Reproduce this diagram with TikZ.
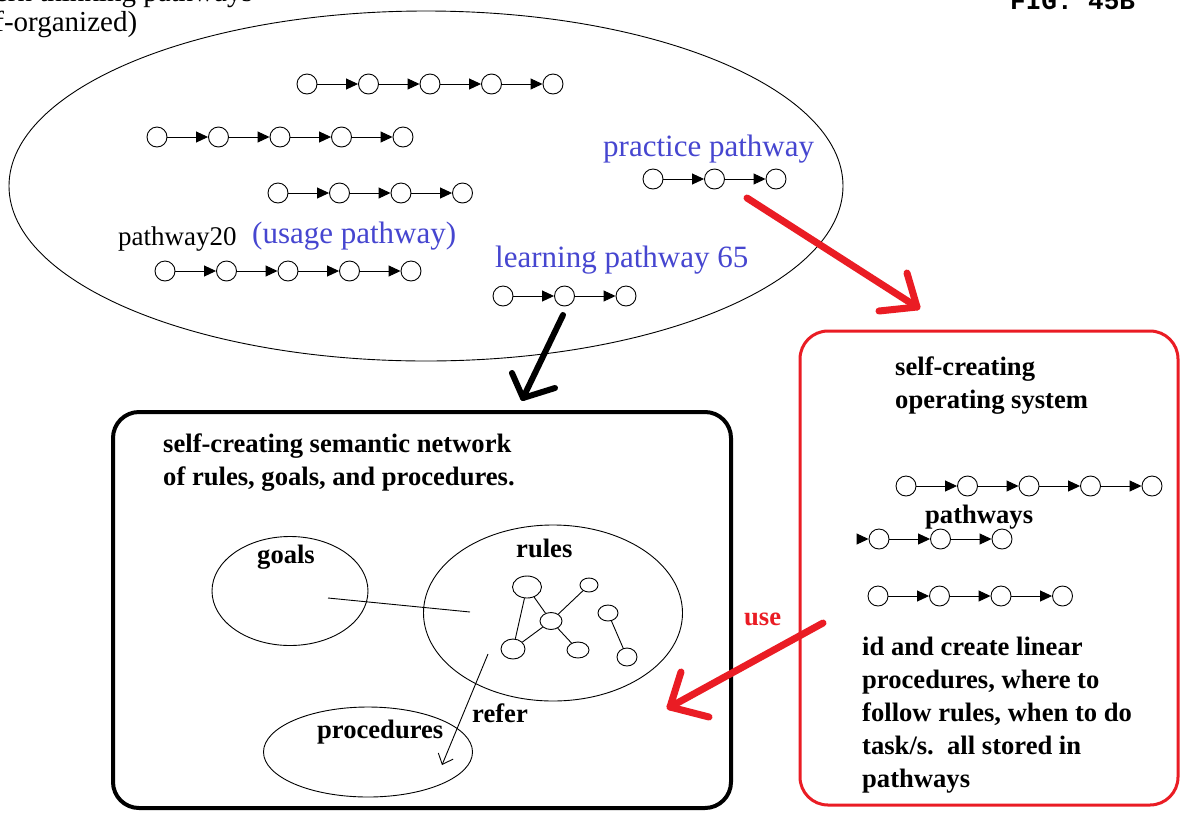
\documentclass[tikz,border=0pt]{standalone}
\usepackage{fontspec}
\setmainfont{Liberation Serif}
\newfontfamily\figfont{Liberation Mono}
\usetikzlibrary{arrows.meta,shapes.geometric,calc}

\definecolor{pathblue}{RGB}{70,70,208}
\definecolor{markred}{RGB}{234,28,36}

\begin{document}
\begin{tikzpicture}[
    x=1pt, y=-1pt,
    dot/.style      = {draw, circle, minimum size=20pt, inner sep=0pt, line width=0.9pt},
    link/.style     = {line width=0.9pt, -{Triangle[length=12pt,width=11pt]}},
    area/.style     = {draw, ellipse, line width=0.9pt},
    net/.style      = {draw, ellipse, inner sep=0pt, line width=0.9pt},
    plaintxt/.style = {font=\fontsize{27}{30}\selectfont, inner sep=0pt},
    bluetxt/.style  = {font=\fontsize{31}{34}\selectfont, text=pathblue, inner sep=0pt},
    boldtxt/.style  = {font=\fontsize{26.6}{32.8}\selectfont\bfseries, align=left, inner sep=0pt},
    hand/.style     = {line width=6pt, line cap=round, line join=round}
  ]
  \useasboundingbox[fill=white] (0,0) rectangle (1181,812);

  %–––– heading ––––
  \node[plaintxt, font=\fontsize{29}{32}\selectfont, anchor=base east] (head1) at (253,1) {pattern thinking pathways};
  \node[plaintxt, font=\fontsize{29}{32}\selectfont, anchor=base west] (head2) at (-38,31) {self-organized)};
  \node[font=\figfont\bfseries\fontsize{26}{30}\selectfont, inner sep=0pt, anchor=base west] (fig) at (1010,9) {FIG. 45B};

  %–––– field of pathways ––––
  \node[area, minimum width=834pt, minimum height=350pt] (field) at (426,186) {};

  % chains: name/first x/y/count
  \foreach \r/\x/\y/\n in {pa/307/84/5, pb/157/137/5, pc/278/193/4, pd/165/271/5,
                          prac/653/179/3, learn/503/296/3,
                          osa/906/486/5, osb/879/539/3, osc/878/596/4} {
    \foreach \k in {1,...,\n}
      \node[dot] (\r\k) at ({\x+61.5*(\k-1)},\y) {};
    \foreach \k [remember=\k as \j (initially 1)] in {2,...,\n}
      \draw[link] (\r\j) -- (\r\k);
  }
  \coordinate (osb0) at (857,539);
  \draw[link] (osb0) -- (osb1);

  \node[plaintxt, anchor=base west] (pw20)     at (118,245) {pathway20};
  \node[bluetxt,  anchor=base west] (usage)    at (252,243) {(usage pathway)};
  \node[bluetxt,  anchor=base west] (learnlbl) at (495,267) {learning pathway 65};
  \node[bluetxt,  anchor=base west] (praclbl)  at (603,156) {practice pathway};

  %–––– semantic network box ––––
  \node[draw, line width=4pt, rounded corners=26pt,
        minimum width=618pt, minimum height=396pt] (netbox) at (422,610) {};
  % base of a multi-line node sits on its last line
  \node[boldtxt, anchor=base west] (nettitle) at (163,485)
        {self-creating semantic network\\of rules, goals, and procedures.};

  \node[area, minimum width=156pt, minimum height=109pt] (goals) at (290,591) {};
  \node[area, minimum width=259pt, minimum height=176pt] (rules) at (553,613) {};
  \node[area, minimum width=209pt, minimum height=90pt]  (procs) at (368,752) {};
  \node[boldtxt, anchor=base west] (goalslbl) at (257,563) {goals};
  \node[boldtxt, anchor=base west] (ruleslbl) at (516,557) {rules};
  \node[boldtxt, anchor=base west] (procslbl) at (317,738) {procedures};
  \node[boldtxt, anchor=base west] (referlbl) at (472,722) {refer};

  % little rule graph
  \node[net, minimum width=29pt, minimum height=22pt] (rA) at (527,587) {};
  \node[net, minimum width=18pt, minimum height=14pt] (rB) at (589,585) {};
  \node[net, minimum width=22pt, minimum height=17pt] (rC) at (551,621) {};
  \node[net, minimum width=24pt, minimum height=20pt] (rD) at (513,649) {};
  \node[net, minimum width=22pt, minimum height=16pt] (rE) at (578,650) {};
  \node[net, minimum width=20pt, minimum height=16pt] (rF) at (608,613) {};
  \node[net, minimum width=20pt, minimum height=18pt] (rG) at (627,657) {};
  \foreach \a/\b in {rA/rD, rA/rC, rC/rB, rC/rD, rC/rE, rF/rG}
    \draw[line width=0.9pt] (\a) -- (\b);

  \coordinate (gl) at (328,598);
  \coordinate (rl) at (470,612);
  \draw[line width=0.9pt] (gl) -- (rl);
  \coordinate (rf0) at (488,654);
  \coordinate (rf1) at (442,765);
  \draw[line width=0.9pt, -{Straight Barb[length=9pt,width=16pt]}] (rf0) -- (rf1);

  %–––– operating system box ––––
  \node[draw=markred, line width=3pt, rounded corners=28pt,
        minimum width=378pt, minimum height=474pt] (osbox) at (989,568) {};
  \node[boldtxt, anchor=base west] (ostitle) at (895,408) {self-creating\\operating system};
  \node[boldtxt, anchor=base west] (pwlbl)   at (925,523) {pathways};
  \node[boldtxt, anchor=base west] (osnote)  at (862,787)
        {id and create linear\\procedures, where to\\follow rules, when to do\\task/s.\ \ all stored in\\pathways};
  \node[boldtxt, text=markred, anchor=base west] (uselbl) at (744,625) {use};

  %–––– hand drawn arrows ––––
  % learning pathway -> semantic network
  \coordinate (dn0) at (563,315);
  \coordinate (dn1) at (523,398);
  \coordinate (dnL) at (512,373);
  \coordinate (dnR) at (555,388);
  \draw[hand] (dn0) -- (dn1);
  \draw[hand] (dnL) -- (dn1) -- (dnR);

  % practice pathway -> operating system
  \coordinate (pr0) at (747,198);
  \coordinate (pr1) at (917,307);
  \coordinate (prL) at (879,311);
  \coordinate (prR) at (907,273);
  \draw[hand, markred, line width=7pt] (pr0) -- (pr1);
  \draw[hand, markred, line width=7pt] (prL) -- (pr1) -- (prR);

  % operating system -> semantic network
  \coordinate (us0) at (823,623);
  \coordinate (us1) at (670,707);
  \coordinate (usL) at (681,672);
  \coordinate (usR) at (709,717);
  \draw[hand, markred, line width=7pt] (us0) -- (us1);
  \draw[hand, markred, line width=7pt] (usL) -- (us1) -- (usR);
\end{tikzpicture}
\end{document}
